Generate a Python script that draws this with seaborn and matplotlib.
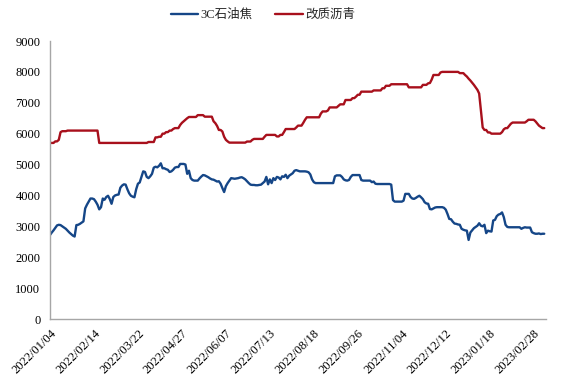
import matplotlib
matplotlib.use("Agg")
import matplotlib.pyplot as plt
import seaborn as sns
import pandas as pd

series_names = ["3C石油焦", "改质沥青"]

coke = [
    2720, 2800, 2870, 2950, 3030, 3050, 3040, 3000, 2960, 2920,
    2860, 2800, 2750, 2700, 2670, 3040, 3050, 3080, 3120, 3160,
    3580, 3700, 3800, 3900, 3900, 3880, 3800, 3700, 3550, 3620,
    3900, 3860, 3950, 3990, 3880, 3730, 3950, 4000, 4020, 4030,
    4250, 4320, 4360, 4350, 4200, 4070, 3990, 3960, 3940, 4200,
    4380, 4420, 4600, 4780, 4760, 4600, 4560, 4620, 4700, 4900,
    4930, 4910, 4960, 5040, 4880, 4880, 4850, 4830, 4760, 4780,
    4830, 4900, 4920, 4920, 5020, 5020, 5020, 5000, 4700, 4800,
    4560, 4500, 4480, 4480, 4480, 4550, 4610, 4660, 4650, 4620,
    4590, 4550, 4520, 4510, 4480, 4450, 4460, 4380, 4240, 4110,
    4300, 4400, 4480, 4560, 4550, 4540, 4550, 4560, 4580, 4590,
    4560, 4520, 4460, 4400, 4350, 4340, 4340, 4330, 4330, 4340,
    4350, 4400, 4450, 4600, 4360, 4520, 4400, 4560, 4500, 4600,
    4580, 4520, 4620, 4600, 4670, 4560, 4640, 4680, 4720, 4800,
    4820, 4800, 4780, 4780, 4780, 4780, 4770, 4750, 4680, 4520,
    4430, 4400, 4400, 4400, 4400, 4400, 4400, 4400, 4400, 4400,
    4400, 4400, 4620, 4650, 4650, 4650, 4600, 4520, 4490, 4480,
    4500, 4600, 4660, 4660, 4660, 4660, 4660, 4500, 4480, 4480,
    4480, 4480, 4480, 4430, 4450, 4380, 4370, 4370, 4370, 4370,
    4370, 4370, 4370, 4370, 4350, 3850, 3800, 3800, 3800, 3800,
    3800, 3830, 4050, 4050, 4050, 3950, 3900, 3890, 3920, 3960,
    3990, 3940, 3880, 3780, 3740, 3730, 3560, 3550, 3580, 3610,
    3620, 3620, 3620, 3620, 3600, 3540, 3400, 3240, 3230, 3150,
    3090, 3080, 3060, 3050, 2920, 2890, 2870, 2860, 2560, 2800,
    2870, 2940, 2980, 3020, 3100, 3020, 3000, 3050, 2780, 2860,
    2840, 2830, 3190, 3210, 3330, 3380, 3400, 3450, 3300, 3050,
    2980, 2970, 2970, 2970, 2970, 2970, 2970, 2970, 2920, 2950,
    2970, 2960, 2960, 2960, 2810, 2780, 2760, 2760, 2770, 2750,
    2760, 2760,
]

pitch = [
    5700, 5700, 5700, 5750, 5750, 5800, 6050, 6080, 6080, 6080,
    6100, 6100, 6100, 6100, 6100, 6100, 6100, 6100, 6100, 6100,
    6100, 6100, 6100, 6100, 6100, 6100, 6100, 6100, 5700, 5700,
    5700, 5700, 5700, 5700, 5700, 5700, 5700, 5700, 5700, 5700,
    5700, 5700, 5700, 5700, 5700, 5700, 5700, 5700, 5700, 5700,
    5700, 5700, 5700, 5700, 5700, 5700, 5730, 5730, 5730, 5730,
    5880, 5880, 5900, 5900, 6000, 6000, 6050, 6050, 6100, 6100,
    6150, 6180, 6180, 6180, 6280, 6350, 6400, 6450, 6500, 6540,
    6540, 6540, 6540, 6540, 6600, 6600, 6600, 6600, 6550, 6550,
    6550, 6550, 6550, 6400, 6340, 6250, 6120, 6120, 6070, 5900,
    5800, 5750, 5710, 5710, 5710, 5710, 5710, 5710, 5710, 5710,
    5710, 5710, 5745, 5745, 5745, 5800, 5830, 5830, 5830, 5830,
    5830, 5830, 5900, 5960, 5960, 5960, 5960, 5960, 5960, 5910,
    5910, 5960, 5960, 6050, 6150, 6150, 6150, 6150, 6150, 6150,
    6200, 6260, 6260, 6260, 6350, 6450, 6530, 6530, 6530, 6530,
    6530, 6530, 6530, 6530, 6650, 6720, 6720, 6720, 6750, 6850,
    6850, 6850, 6850, 6850, 6900, 6950, 6950, 6950, 7090, 7090,
    7090, 7090, 7150, 7150, 7200, 7260, 7260, 7360, 7360, 7360,
    7360, 7360, 7360, 7360, 7400, 7400, 7400, 7400, 7400, 7470,
    7470, 7550, 7550, 7550, 7600, 7600, 7600, 7600, 7600, 7600,
    7600, 7600, 7600, 7600, 7500, 7500, 7500, 7500, 7500, 7500,
    7500, 7500, 7580, 7580, 7580, 7630, 7640, 7750, 7900, 7900,
    7900, 7900, 7980, 8000, 8000, 8000, 8000, 8000, 8000, 8000,
    8000, 8000, 8000, 7960, 7960, 7960, 7900, 7850, 7780, 7720,
    7650, 7580, 7500, 7420, 7300, 6750, 6200, 6120, 6120, 6040,
    6040, 6000, 6000, 6000, 6000, 6000, 6000, 6050, 6140, 6180,
    6180, 6250, 6320, 6360, 6360, 6360, 6360, 6360, 6360, 6360,
    6360, 6400, 6450, 6450, 6450, 6450, 6400, 6330, 6260, 6220,
    6180, 6180,
]

tick_labels = [
    "2022/01/04", "2022/02/14", "2022/03/22", "2022/04/27",
    "2022/06/07", "2022/07/13", "2022/08/18", "2022/09/26",
    "2022/11/04", "2022/12/12", "2023/01/18", "2023/02/28",
]
y_ticks = [0, 1000, 2000, 3000, 4000, 5000, 6000, 7000, 8000, 9000]

n = len(coke)
df = pd.DataFrame({
    "idx": list(range(n)) * 2,
    "value": coke + pitch,
    "series": [series_names[0]] * n + [series_names[1]] * n,
})

sns.set_style("white")
plt.rcParams["font.family"] = ["Liberation Serif", "Noto Sans CJK SC"]

fig = plt.figure(figsize=(5.65, 3.82), dpi=100)
ax = fig.add_axes([50 / 565, 1 - 319 / 382, 496 / 565, 278 / 382])

palette = {series_names[0]: "#154687", series_names[1]: "#A8101C"}
sns.lineplot(data=df, x="idx", y="value", hue="series", palette=palette,
             linewidth=1.7, ax=ax, legend=False)

ax.set_xlim(0, n)
ax.set_ylim(0, 9000)
ax.set_yticks(y_ticks)
ax.set_yticklabels([str(v) for v in y_ticks], fontsize=9)
ax.set_xticks([k * 25 for k in range(len(tick_labels))])
ax.set_xticklabels(tick_labels, rotation=45, ha="right",
                   rotation_mode="anchor", fontsize=9)
ax.set_xlabel("")
ax.set_ylabel("")

for s in ["top", "right"]:
    ax.spines[s].set_visible(False)
for s in ["left", "bottom"]:
    ax.spines[s].set_color("#A6A6A6")
    ax.spines[s].set_linewidth(1.0)
ax.tick_params(axis="both", which="major", direction="out", length=4,
               width=1.0, color="#A6A6A6", pad=3, labelcolor="black")
ax.tick_params(axis="x", pad=2)

from matplotlib.lines import Line2D
handles = [Line2D([], [], color=palette[s], lw=1.7) for s in series_names]
fig.legend(handles, series_names, loc="center", ncol=2,
           bbox_to_anchor=(263 / 565, 1 - 15 / 382), frameon=False,
           fontsize=9, handlelength=2.2, handletextpad=0.2,
           columnspacing=1.8)

fig.savefig("out.png", dpi=100)
